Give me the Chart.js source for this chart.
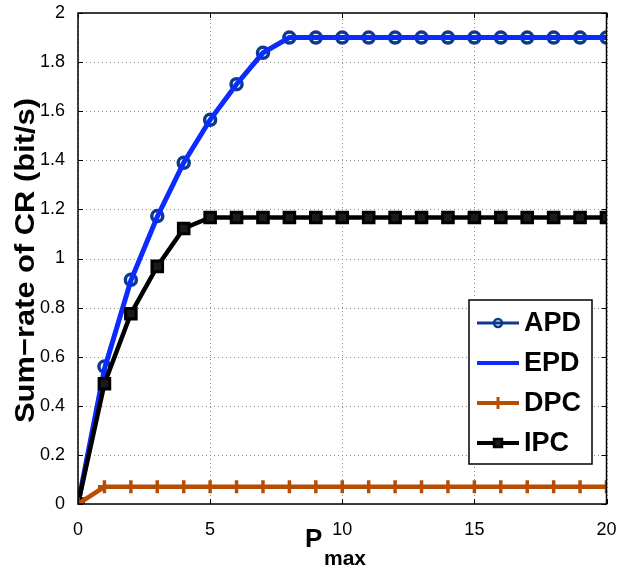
<!DOCTYPE html>
<html>
<head>
<meta charset="utf-8">
<script src="https://cdn.jsdelivr.net/npm/chart.js@4/dist/chart.umd.min.js"></script>
<style>
  html, body { margin: 0; padding: 0; background: #fff; }
  #wrap { width: 617px; height: 569px; }
</style>
</head>
<body>
<div id="wrap"><canvas id="rateChart" width="617" height="569"></canvas></div>
<script>
const pmax = [0, 1, 2, 3, 4, 5, 6, 7, 8, 9, 10, 11, 12, 13, 14, 15, 16, 17, 18, 19, 20];
const apd = [0, 0.56, 0.913, 1.173, 1.39, 1.565, 1.71, 1.838, 1.90, 1.90, 1.90, 1.90, 1.90, 1.90, 1.90, 1.90, 1.90, 1.90, 1.90, 1.90, 1.90];
const epd = [0, 0.55, 0.91, 1.17, 1.39, 1.565, 1.71, 1.838, 1.90, 1.90, 1.90, 1.90, 1.90, 1.90, 1.90, 1.90, 1.90, 1.90, 1.90, 1.90, 1.90];
const dpc = [0, 0.07, 0.07, 0.07, 0.07, 0.07, 0.07, 0.07, 0.07, 0.07, 0.07, 0.07, 0.07, 0.07, 0.07, 0.07, 0.07, 0.07, 0.07, 0.07, 0.07];
const ipc = [0, 0.49, 0.775, 0.968, 1.122, 1.167, 1.167, 1.167, 1.167, 1.167, 1.167, 1.167, 1.167, 1.167, 1.167, 1.167, 1.167, 1.167, 1.167, 1.167, 1.167];
const xTicks = [0, 5, 10, 15, 20];
const yTicks = [0, 0.2, 0.4, 0.6, 0.8, 1, 1.2, 1.4, 1.6, 1.8, 2];

const toPoints = (ys) => pmax.map((x, i) => ({ x: x, y: ys[i] }));
const FONT = "'Liberation Sans', Arial, Helvetica, sans-serif";

// dotted matlab-style grid under the lines
const dottedGrid = {
    id: 'dottedGrid',
    beforeDatasetsDraw(chart) {
        const ctx = chart.ctx;
        const a = chart.chartArea;
        ctx.save();
        ctx.strokeStyle = '#8a8a8a';
        ctx.lineWidth = 1;
        ctx.setLineDash([1, 3]);
        xTicks.forEach(v => {
            const px = Math.round(chart.scales.x.getPixelForValue(v)) + 0.5;
            ctx.beginPath();
            ctx.moveTo(px, a.bottom); ctx.lineTo(px, a.top);
            ctx.stroke();
        });
        yTicks.forEach(v => {
            const py = Math.round(chart.scales.y.getPixelForValue(v)) + 0.5;
            ctx.beginPath();
            ctx.moveTo(a.left, py); ctx.lineTo(a.right, py);
            ctx.stroke();
        });
        ctx.restore();
    }
};

// box, inward ticks, legend inside the plot, axis titles
const matlabDecor = {
    id: 'matlabDecor',
    afterDraw(chart) {
        const ctx = chart.ctx;
        const a = chart.chartArea;
        const xs = chart.scales.x;
        const ys = chart.scales.y;
        ctx.save();
        ctx.strokeStyle = '#000';
        ctx.lineWidth = 1.5;
        ctx.strokeRect(a.left, a.top, a.right - a.left, a.bottom - a.top);
        ctx.lineWidth = 1;
        xTicks.forEach(v => {
            const px = Math.round(xs.getPixelForValue(v)) + 0.5;
            ctx.beginPath();
            ctx.moveTo(px, a.bottom); ctx.lineTo(px, a.bottom - 5);
            ctx.moveTo(px, a.top); ctx.lineTo(px, a.top + 5);
            ctx.stroke();
        });
        yTicks.forEach(v => {
            const py = Math.round(ys.getPixelForValue(v)) + 0.5;
            ctx.beginPath();
            ctx.moveTo(a.left, py); ctx.lineTo(a.left + 5, py);
            ctx.moveTo(a.right, py); ctx.lineTo(a.right - 5, py);
            ctx.stroke();
        });

        // legend
        const lx = 469, ly = 300, lw = 123, lh = 164;
        ctx.fillStyle = '#fff';
        ctx.fillRect(lx, ly, lw, lh);
        ctx.strokeStyle = '#000';
        ctx.lineWidth = 1.5;
        ctx.strokeRect(lx, ly, lw, lh);
        const rows = [323, 363, 403, 443];
        chart.data.datasets.forEach((ds, i) => {
            const y = rows[i];
            ctx.strokeStyle = ds.borderColor;
            ctx.lineWidth = Math.min(ds.borderWidth, 4);
            ctx.beginPath();
            ctx.moveTo(477, y); ctx.lineTo(519, y);
            ctx.stroke();
            if (ds.pointRadius > 0) {
                ctx.fillStyle = ds.pointBackgroundColor;
                ctx.strokeStyle = ds.pointBorderColor;
                ctx.lineWidth = 2.5;
                ctx.beginPath();
                if (ds.pointStyle === 'circle') {
                    ctx.arc(498, y, 4, 0, Math.PI * 2);
                    ctx.stroke();
                } else if (ds.pointStyle === 'rect') {
                    ctx.fillRect(494, y - 4, 8, 8);
                    ctx.strokeRect(494, y - 4, 8, 8);
                } else {
                    ctx.lineWidth = 3;
                    ctx.moveTo(498, y - 6); ctx.lineTo(498, y + 6);
                    ctx.stroke();
                }
            }
            ctx.fillStyle = '#000';
            ctx.font = 'bold 27px ' + FONT;
            ctx.textAlign = 'left';
            ctx.textBaseline = 'middle';
            ctx.fillText(ds.label, 524, y + 1);
        });

        // x title: P with subscript max
        ctx.fillStyle = '#000';
        ctx.textBaseline = 'alphabetic';
        ctx.textAlign = 'left';
        ctx.font = 'bold 26px ' + FONT;
        ctx.fillText('P', 305, 547);
        ctx.font = 'bold 21px ' + FONT;
        ctx.fillText('max', 324, 565);

        // y title, rotated and stretched to the reference length
        const yTitle = 'Sum\u2212rate of CR (bit/s)';
        ctx.translate(34, 260.5);
        ctx.rotate(-Math.PI / 2);
        ctx.font = 'bold 28px ' + FONT;
        ctx.textAlign = 'center';
        const w = ctx.measureText(yTitle).width;
        ctx.scale(325 / w, 1);
        ctx.fillText(yTitle, 0, 0);
        ctx.restore();
    }
};

const ctx = document.getElementById('rateChart').getContext('2d');
const rateChart = new Chart(ctx, {
    type: 'line',
    plugins: [dottedGrid, matlabDecor],
    data: {
        datasets: [
            {
                label: 'APD',
                data: toPoints(apd),
                borderColor: '#0d3a8e',
                borderWidth: 3,
                pointStyle: 'circle',
                pointRadius: 5.5,
                pointBorderWidth: 3.5,
                pointBorderColor: '#0d3a8e',
                pointBackgroundColor: 'rgba(0,0,0,0)',
                order: 4
            },
            {
                label: 'EPD',
                data: toPoints(epd),
                borderColor: '#0b2bff',
                borderWidth: 5,
                pointRadius: 0,
                order: 3
            },
            {
                label: 'DPC',
                data: toPoints(dpc),
                borderColor: '#b84c00',
                borderWidth: 4.5,
                pointStyle: 'cross',
                pointRadius: 6.5,
                pointBorderWidth: 3.5,
                pointBorderColor: '#b84c00',
                pointBackgroundColor: '#b84c00',
                order: 1
            },
            {
                label: 'IPC',
                data: toPoints(ipc),
                borderColor: '#000000',
                borderWidth: 4.5,
                pointStyle: 'rect',
                pointRadius: 7.5,
                pointBorderWidth: 3,
                pointBorderColor: '#000000',
                pointBackgroundColor: '#1a1a1a',
                order: 2
            }
        ]
    },
    options: {
        responsive: false,
        animation: false,
        layout: { padding: { top: 13, right: 10, left: 0, bottom: 0 } },
        elements: { line: { tension: 0 } },
        plugins: {
            legend: { display: false },
            tooltip: { enabled: false }
        },
        scales: {
            x: {
                type: 'linear',
                min: 0,
                max: 20,
                afterBuildTicks: (scale) => { scale.ticks = xTicks.map(v => ({ value: v })); },
                afterFit: (scale) => {
                    scale.height = 65;
                    scale.paddingLeft = 0;
                    scale.paddingRight = 0;
                },
                grid: { display: false },
                border: { display: false },
                ticks: {
                    padding: 7,
                    color: '#000',
                    maxRotation: 0,
                    font: { family: FONT, size: 18 }
                }
            },
            y: {
                type: 'linear',
                min: 0,
                max: 2,
                afterBuildTicks: (scale) => { scale.ticks = yTicks.map(v => ({ value: v })); },
                afterFit: (scale) => {
                    scale.width = 78;
                    scale.paddingTop = 0;
                    scale.paddingBottom = 0;
                },
                grid: { display: false },
                border: { display: false },
                ticks: {
                    padding: 5,
                    color: '#000',
                    font: { family: FONT, size: 18 },
                    callback: (v) => String(v)
                }
            }
        }
    }
});
</script>
</body>
</html>
